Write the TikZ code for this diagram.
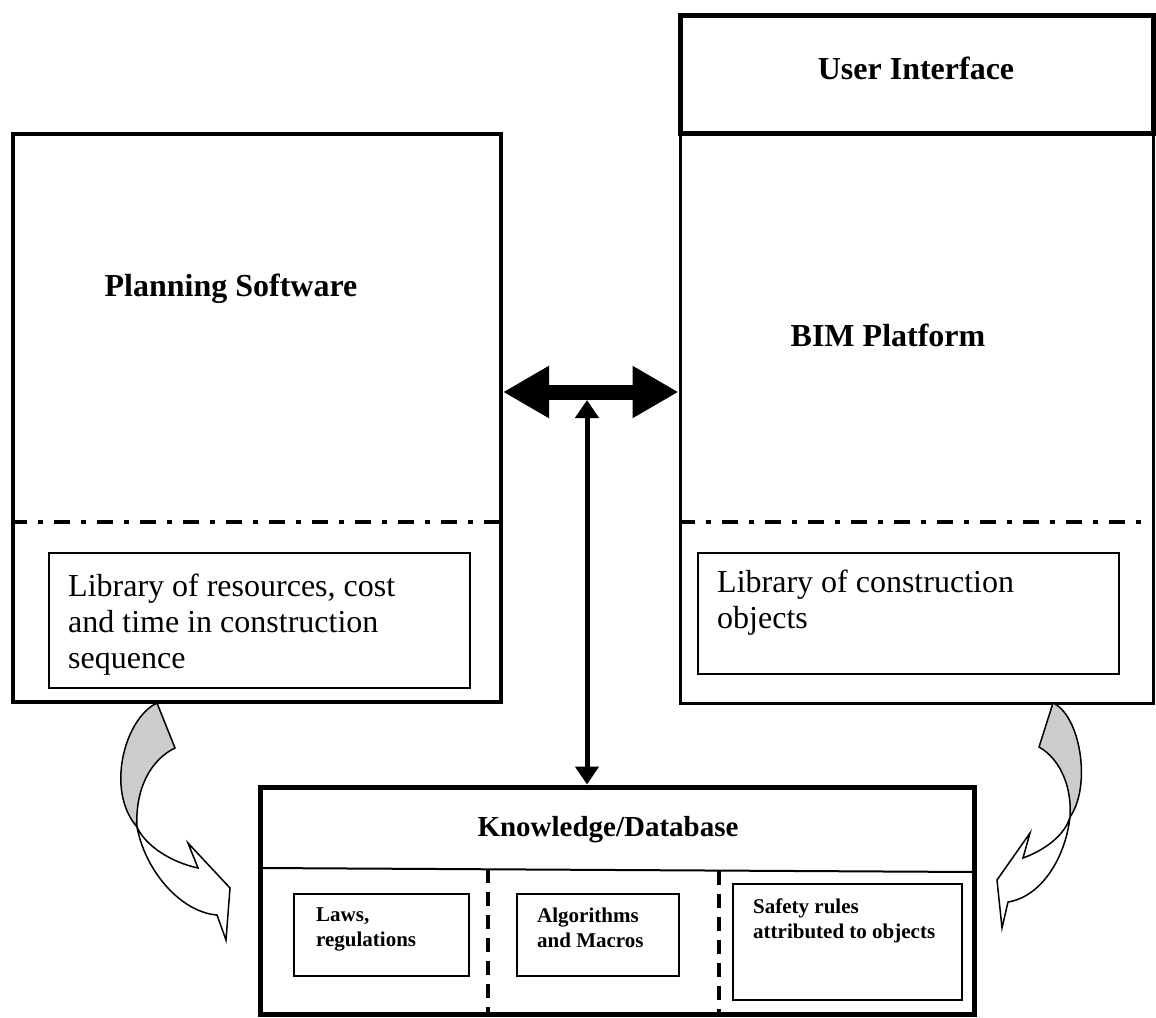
\documentclass[tikz,border=0pt]{standalone}
\usepackage{fontspec}
\setmainfont{Liberation Serif}
\usetikzlibrary{arrows.meta,calc}
\begin{document}
\begin{tikzpicture}[x=1pt,y=-1pt,
  bigbox/.style={draw, inner sep=0pt, fill=white},
  libbox/.style={draw, line width=2pt, inner sep=0pt},
  heading/.style={font=\fontsize{32}{36}\selectfont\bfseries, inner sep=0pt, anchor=base},
  libtext/.style={font=\fontsize{32}{36}\selectfont, align=left, inner sep=0pt, anchor=base west},
  smalltext/.style={font=\fontsize{21}{25}\selectfont\bfseries, align=left, inner sep=0pt, anchor=base west},
  dashdot line/.style={line width=3.5pt, dash pattern=on 16pt off 11pt on 5pt off 11pt},
  sepdash/.style={line width=3.5pt, dash pattern=on 14pt off 9pt},
  dblarrow/.style={line width=15pt, {Triangle[length=46pt,width=49pt]}-{Triangle[length=46pt,width=49pt]}},
  varrow/.style={line width=5pt, {Triangle[length=18pt,width=23pt]}-{Triangle[length=18pt,width=23pt]}},
  curvedarrow/.style={line width=1.5pt, line join=miter},
]
\useasboundingbox (0,0) rectangle (1156,1017);

% Planning software box
\node[bigbox, line width=4pt, minimum width=488pt, minimum height=568pt] (plan) at (257,418) {};
\draw[dashdot line] (plan.west |- 0,522) -- (plan.east |- 0,522);
\node[libbox, minimum width=421pt, minimum height=135pt] (planlib) at (259,620) {};
\node[libtext] (planlibtext) at (68,668) {Library of resources, cost\\and time in construction\\sequence};
\node[heading] (plantitle) at (231,296) {Planning Software};

% BIM platform box
\node[bigbox, line width=3pt, minimum width=473pt, minimum height=570pt] (bim) at (916.5,418) {};
\node[bigbox, line width=5pt, minimum width=473pt, minimum height=118pt] (ui) at (916.5,74) {};
\node[heading] (uititle) at (916,79) {User Interface};
\node[heading] (bimtitle) at (888,346) {BIM Platform};
\draw[dashdot line] (bim.west |- 0,522) -- (bim.east |- 0,522);
\node[libbox, minimum width=421pt, minimum height=121pt] (bimlib) at (908,613) {};
\node[libtext] (bimlibtext) at (717,628) {Library of construction\\objects};

% Knowledge / database box
\node[bigbox, line width=5pt, minimum width=714pt, minimum height=227pt] (kb) at (617.5,900.5) {};
\coordinate (hl) at (260,868);
\coordinate (hr) at (975,872);
\draw[line width=2pt] (hl) -- (hr);
\node[heading, font=\fontsize{29}{34}\selectfont\bfseries] (kbtitle) at (608,836) {Knowledge/Database};
\draw[sepdash] (488,869) -- (488 ,1014);
\draw[sepdash] (719,871) -- (719,1014);
\node[libbox, minimum width=175pt, minimum height=82pt] (laws) at (381.5,935) {};
\node[smalltext] (lawstext) at (316,946) {Laws,\\regulations};
\node[libbox, minimum width=162pt, minimum height=82pt] (algo) at (598,935) {};
\node[smalltext] (algotext) at (537,947) {Algorithms\\and Macros};
\node[libbox, minimum width=229pt, minimum height=116pt] (safe) at (847.5,942) {};
\node[smalltext] (safetext) at (753,938) {Safety rules\\attributed to objects};

% connectors
\draw[dblarrow] (plan.east |- 0,392) -- (bim.west |- 0,392);
\coordinate (vtop) at (587,400);
\draw[varrow] (vtop) -- (kb.north -| vtop);

% left curved arrow
\draw[curvedarrow, fill=black!20] (157,703) .. controls (125,718) and (105,790) .. (137,827)
   .. controls (135,790) and (150,760) .. (175,748) -- cycle;
\draw[curvedarrow, fill=white] (137,827) .. controls (145,870) and (180,912) .. (217,915)
   -- (226,940) -- (230,888) -- (188,843) -- (198,868)
   .. controls (170,862) and (145,845) .. (137,827) -- cycle;

% right curved arrow
\draw[curvedarrow, fill=black!20] (1053,703) .. controls (1080,715) and (1092,785) .. (1070,817)
   .. controls (1072,790) and (1062,760) .. (1039,747) -- cycle;
\draw[curvedarrow, fill=white] (1070,817) .. controls (1065,860) and (1040,897) .. (1008,902)
   -- (1002,928) -- (997,880) -- (1030,833) -- (1023,858)
   .. controls (1045,850) and (1065,835) .. (1070,817) -- cycle;
\end{tikzpicture}
\end{document}
